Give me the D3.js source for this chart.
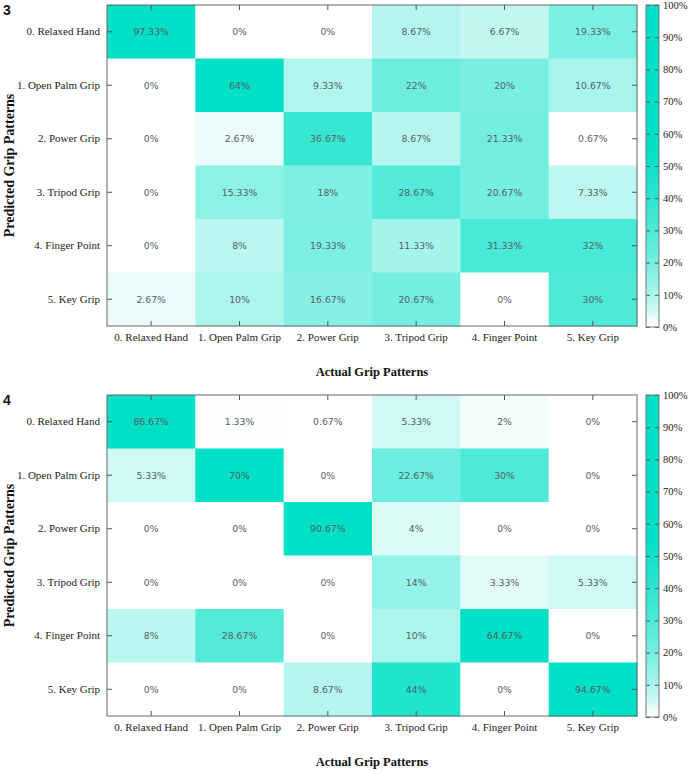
<!DOCTYPE html>
<html>
<head>
<meta charset="utf-8">
<script src="https://cdn.jsdelivr.net/npm/d3@7"></script>
<style>
  body { margin: 0; background: #fff; }
  svg { display: block; }
</style>
</head>
<body>
<svg id="chart" width="689" height="771"></svg>
<script>
const categories = ["0. Relaxed Hand", "1. Open Palm Grip", "2. Power Grip", "3. Tripod Grip", "4. Finger Point", "5. Key Grip"];
const panelLabels = ["3", "4"];
const cbTicks = [0, 10, 20, 30, 40, 50, 60, 70, 80, 90, 100];

// rows = predicted, columns = actual
const matrix3 = [
  [97.33, 0, 0, 8.67, 6.67, 19.33],
  [0, 64, 9.33, 22, 20, 10.67],
  [0, 2.67, 36.67, 8.67, 21.33, 0.67],
  [0, 15.33, 18, 28.67, 20.67, 7.33],
  [0, 8, 19.33, 11.33, 31.33, 32],
  [2.67, 10, 16.67, 20.67, 0, 30]
];
const matrix4 = [
  [86.67, 1.33, 0.67, 5.33, 2, 0],
  [5.33, 70, 0, 22.67, 30, 0],
  [0, 0, 90.67, 4, 0, 0],
  [0, 0, 0, 14, 3.33, 5.33],
  [8, 28.67, 0, 10, 64.67, 0],
  [0, 0, 8.67, 44, 0, 94.67]
];
const matrices = [matrix3, matrix4];

const svg = d3.select("#chart");
const teal = "#00e0c7";
const interp = d3.interpolateRgb("#ffffff", teal);
const tScale = d3.scalePow().exponent(0.5).domain([1.2, 55]).range([0, 1]).clamp(true);
const color = v => interp(tScale(v));

const fmt = v => (Math.round(v * 100) / 100) + "%";

// gradient for colorbar
const defs = svg.append("defs");
const grad = defs.append("linearGradient").attr("id", "cbgrad")
  .attr("x1", 0).attr("y1", 1).attr("x2", 0).attr("y2", 0);
d3.range(0, 101, 1).forEach(v => {
  grad.append("stop").attr("offset", v + "%").attr("stop-color", color(v));
});

const serif = "'Liberation Serif', 'Times New Roman', serif";
const panelTops = [5, 395];
const X0 = 107, X1 = 637;
const H = 321;

matrices.forEach((m, pi) => {
  const top = panelTops[pi];
  const g = svg.append("g").attr("transform", `translate(${X0},${top})`);
  const W = X1 - X0;
  const x = d3.scaleBand().domain(categories).range([0, W]);
  const y = d3.scaleBand().domain(categories).range([0, H]);

  const cells = [];
  m.forEach((row, r) => row.forEach((v, c) => cells.push({ r, c, v })));

  g.selectAll("rect.cell").data(cells).enter().append("rect")
    .attr("class", "cell")
    .attr("x", d => x(categories[d.c]))
    .attr("y", d => y(categories[d.r]))
    .attr("width", x.bandwidth() + 0.5)
    .attr("height", y.bandwidth() + 0.5)
    .attr("fill", d => color(d.v));

  g.selectAll("text.val").data(cells).enter().append("text")
    .attr("class", "val")
    .attr("x", d => x(categories[d.c]) + x.bandwidth() / 2)
    .attr("y", d => y(categories[d.r]) + y.bandwidth() / 2)
    .attr("text-anchor", "middle")
    .attr("dominant-baseline", "central")
    .attr("font-family", "'DejaVu Sans', sans-serif")
    .attr("font-size", 9.3)
    .attr("fill", "#56625f")
    .text(d => fmt(d.v));

  // axes
  const styleAxis = sel => {
    sel.select(".domain").remove();
    sel.selectAll(".tick line").attr("stroke", "#555");
    sel.selectAll(".tick text").attr("font-family", serif).attr("font-size", 11).attr("fill", "#222");
  };
  g.append("g").call(d3.axisLeft(y).tickSize(-5).tickPadding(7)).call(styleAxis);
  g.append("g").attr("transform", `translate(0,${H})`)
    .call(d3.axisBottom(x).tickSize(-5).tickPadding(7)).call(styleAxis);
  g.append("g").call(d3.axisTop(x).tickSize(-5).tickFormat("")).call(styleAxis);
  g.append("g").attr("transform", `translate(${W},0)`)
    .call(d3.axisRight(y).tickSize(-5).tickFormat("")).call(styleAxis);

  g.append("rect").attr("x", 0).attr("y", 0).attr("width", W).attr("height", H)
    .attr("fill", "none").attr("stroke", "#666").attr("stroke-width", 1);

  // axis titles
  g.append("text")
    .attr("x", W / 2).attr("y", H + 50)
    .attr("text-anchor", "middle")
    .attr("font-family", serif).attr("font-weight", "bold").attr("font-size", 12.5)
    .attr("fill", "#111")
    .text("Actual Grip Patterns");
  svg.append("text")
    .attr("transform", `translate(14,${top + H / 2}) rotate(-90)`)
    .attr("text-anchor", "middle")
    .attr("font-family", serif).attr("font-weight", "bold").attr("font-size", 14)
    .attr("fill", "#111")
    .text("Predicted Grip Patterns");

  // panel label
  svg.append("text")
    .attr("x", 3).attr("y", top + 10)
    .attr("font-family", "'Liberation Sans', Arial, sans-serif")
    .attr("font-weight", "bold").attr("font-size", 14)
    .attr("fill", "#111")
    .text(panelLabels[pi]);

  // colorbar
  const cbx = 646, cbw = 13, cbH = 322;
  const cg = svg.append("g").attr("transform", `translate(${cbx},${top})`);
  const cy = d3.scaleLinear().domain([0, 100]).range([cbH, 0]);
  cg.append("rect").attr("x", 0).attr("y", 0).attr("width", cbw).attr("height", cbH)
    .attr("fill", "url(#cbgrad)");
  const cbl = cg.append("g").call(d3.axisLeft(cy).tickValues(cbTicks).tickSize(-4).tickFormat(""));
  cbl.select(".domain").remove();
  cbl.selectAll(".tick line").attr("stroke", "#555");
  const cbr = cg.append("g").attr("transform", `translate(${cbw},0)`)
    .call(d3.axisRight(cy).tickValues(cbTicks).tickSize(-4).tickPadding(4).tickFormat(d => d + "%"));
  cbr.select(".domain").remove();
  cbr.selectAll(".tick line").attr("stroke", "#555");
  cbr.selectAll(".tick text").attr("font-family", serif).attr("font-size", 10.5).attr("fill", "#222");
  cg.append("rect").attr("x", 0).attr("y", 0).attr("width", cbw).attr("height", cbH)
    .attr("fill", "none").attr("stroke", "#777").attr("stroke-width", 1);
});
</script>
</body>
</html>
